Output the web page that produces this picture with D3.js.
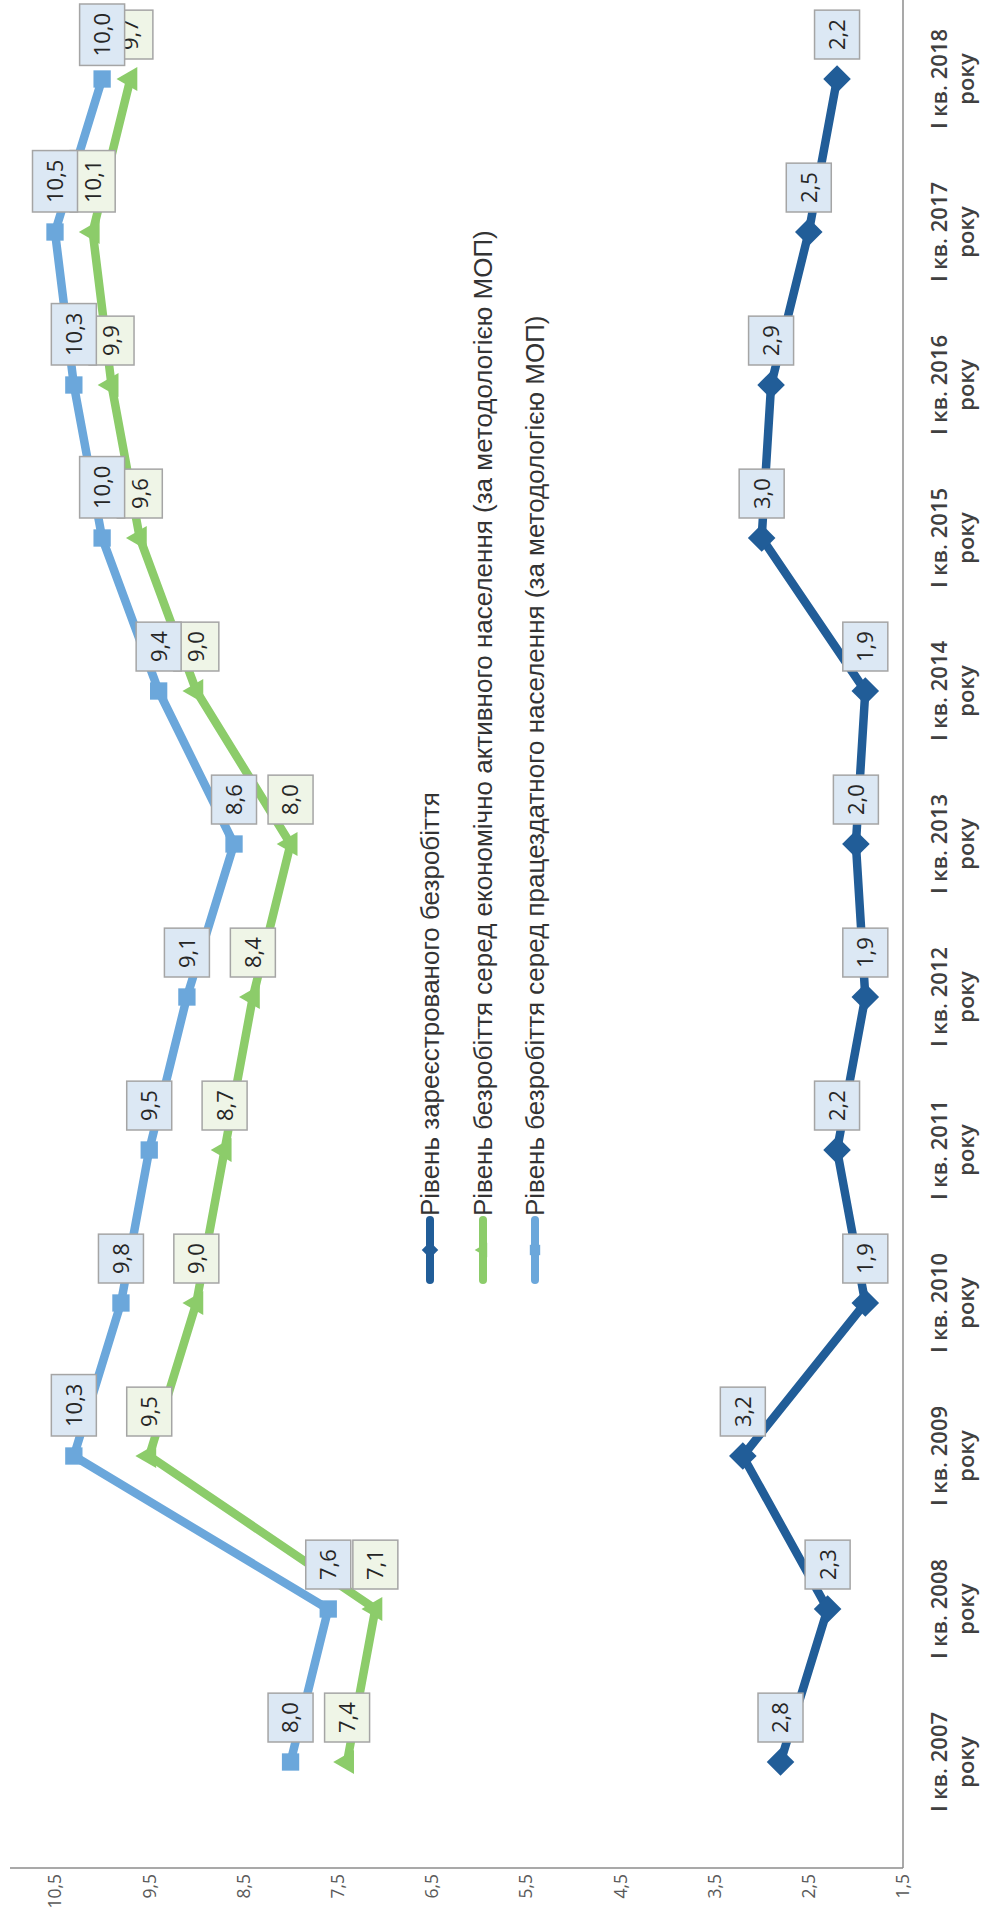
<!DOCTYPE html>
<html>
<head>
<meta charset="utf-8">
<script src="https://cdn.jsdelivr.net/npm/d3@7"></script>
<style>
  html, body { margin: 0; padding: 0; background: #ffffff; }
  svg { display: block; }
</style>
</head>
<body>
<script>
// Unemployment rates, first quarter of each year, %
const categories = ["2007", "2008", "2009", "2010", "2011", "2012", "2013", "2014", "2015", "2016", "2017", "2018"];
const registered = [2.8, 2.3, 3.2, 1.9, 2.2, 1.9, 2.0, 1.9, 3.0, 2.9, 2.5, 2.2];
const activePopulation = [7.4, 7.1, 9.5, 9.0, 8.7, 8.4, 8.0, 9.0, 9.6, 9.9, 10.1, 9.7];
const workingAge = [8.0, 7.6, 10.3, 9.8, 9.5, 9.1, 8.6, 9.4, 10.0, 10.3, 10.5, 10.0];
const valueTicks = [1.5, 2.5, 3.5, 4.5, 5.5, 6.5, 7.5, 8.5, 9.5, 10.5];
const seriesNames = [
  "Рівень зареєстрованого безробіття",
  "Рівень безробіття серед економічно активного населення (за методологією МОП)",
  "Рівень безробіття серед працездатного населення (за методологією МОП)"
];

// The chart is laid out in a landscape frame and turned a quarter turn counter-clockwise.
const PAGE_W = 982, PAGE_H = 1908;
const W = PAGE_H, H = PAGE_W;

const svg = d3.select("body").append("svg")
  .attr("width", PAGE_W).attr("height", PAGE_H);
const g = svg.append("g").attr("transform", `translate(0,${PAGE_H}) rotate(-90)`);

const x = d3.scalePoint().domain(categories).range([146, 1829]);
const y = d3.scaleLinear().domain([1.5, 10.5]).range([903, 55]);

const fmt = v => v.toFixed(1).replace(".", ",");

const styles = [
  { values: registered, color: "#215d98", labelFill: "#dce8f4", marker: "diamond" },
  { values: activePopulation, color: "#8ccc6a", labelFill: "#eff5e7", marker: "triangle" },
  { values: workingAge, color: "#6ba7db", labelFill: "#dce8f4", marker: "square" }
];

function markerPath(kind, scale) {
  if (kind === "diamond") return d3.symbol(d3.symbolSquare, 380 * scale * scale)();
  if (kind === "triangle") return d3.symbol(d3.symbolTriangle, 250 * scale * scale)();
  return d3.symbol(d3.symbolSquare, 300 * scale * scale)();
}
function markerRotation(kind) { return kind === "diamond" ? 45 : 0; }

// Axes
const axisColor = "#8c8c8c";
g.append("line")
  .attr("x1", 40).attr("x2", W)
  .attr("y1", y(1.5)).attr("y2", y(1.5))
  .attr("stroke", axisColor).attr("stroke-width", 1.5);
g.append("line")
  .attr("x1", 40).attr("x2", 40)
  .attr("y1", y(1.5)).attr("y2", 10)
  .attr("stroke", axisColor).attr("stroke-width", 1.5);

// Value tick labels
g.append("g").selectAll("text").data(valueTicks).join("text")
  .attr("x", 34).attr("y", d => y(d))
  .attr("dy", "0.36em")
  .attr("text-anchor", "end")
  .attr("font-family", "'Open Sans', sans-serif")
  .attr("font-size", 17.5)
  .attr("fill", "#595959")
  .text(d => fmt(d));

// Category labels
const catG = g.append("g");
categories.forEach(c => {
  const t = catG.append("text")
    .attr("text-anchor", "middle")
    .attr("font-family", "'Open Sans', sans-serif")
    .attr("font-weight", 600)
    .attr("font-size", 22)
    .attr("fill", "#404040");
  t.append("tspan").attr("x", x(c)).attr("y", 947).text(`I кв. ${c}`);
  t.append("tspan").attr("x", x(c)).attr("y", 974).text("року");
});

// Lines
const line = d3.line()
  .x((d, i) => x(categories[i]))
  .y(d => y(d));

styles.forEach(s => {
  g.append("path")
    .datum(s.values)
    .attr("d", line)
    .attr("fill", "none")
    .attr("stroke", s.color)
    .attr("stroke-width", 8.5)
    .attr("stroke-linejoin", "round");
});

// Markers
styles.forEach(s => {
  g.append("g").selectAll("path").data(s.values).join("path")
    .attr("d", markerPath(s.marker, 1))
    .attr("transform", (d, i) => `translate(${x(categories[i])},${y(d)}) rotate(${markerRotation(s.marker)})`)
    .attr("fill", s.color);
});

// Data labels, placed to the right of each point
styles.forEach(s => {
  const lg = g.append("g");
  s.values.forEach((v, i) => {
    const cx = x(categories[i]), cy = y(v);
    const box = lg.append("rect");
    const t = lg.append("text")
      .attr("font-family", "'Open Sans', sans-serif")
      .attr("font-size", 22)
      .attr("fill", "#262626")
      .attr("text-anchor", "middle")
      .attr("dy", "0.36em")
      .text(fmt(v));
    const tw = t.node().getComputedTextLength();
    const bw = tw + 18, bh = 45;
    let bx = cx + 20;
    if (bx + bw > W - 4) bx = W - 4 - bw;
    box.attr("x", bx).attr("y", cy - bh / 2)
      .attr("width", bw).attr("height", bh)
      .attr("fill", s.labelFill)
      .attr("stroke", "#a5a5a5").attr("stroke-width", 1.5);
    t.attr("x", bx + bw / 2).attr("y", cy);
  });
});

// Legend
const legend = g.append("g");
const legendRows = [430, 483, 535];
styles.forEach((s, i) => {
  const ly = legendRows[i];
  legend.append("line")
    .attr("x1", 628).attr("x2", 688)
    .attr("y1", ly).attr("y2", ly)
    .attr("stroke", s.color).attr("stroke-width", 8)
    .attr("stroke-linecap", "round");
  legend.append("path")
    .attr("d", markerPath(s.marker, 0.6))
    .attr("transform", `translate(658,${ly}) rotate(${markerRotation(s.marker)})`)
    .attr("fill", s.color);
  legend.append("text")
    .attr("x", 692).attr("y", ly)
    .attr("dy", "0.36em")
    .attr("font-family", "'Liberation Sans', Arial, sans-serif")
    .attr("font-size", 26)
    .attr("fill", "#333333")
    .text(seriesNames[i]);
});
</script>
</body>
</html>
